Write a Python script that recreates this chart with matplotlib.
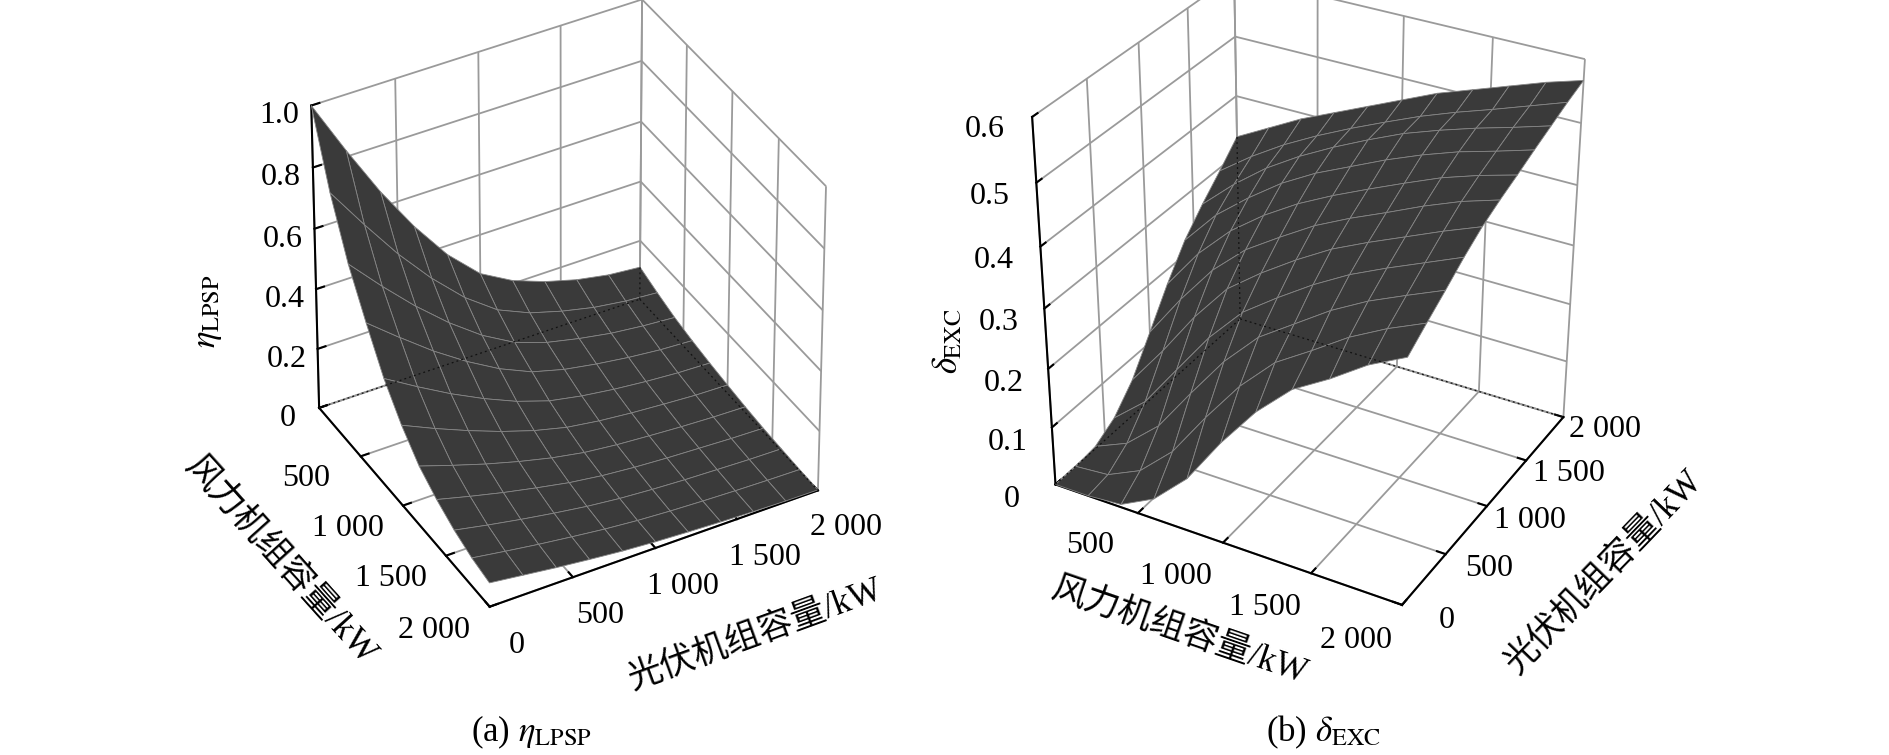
import numpy as np
import matplotlib.pyplot as plt
from matplotlib.ticker import NullFormatter
from mpl_toolkits.mplot3d import proj3d

plt.rcParams['font.family'] = ['Liberation Serif', 'Noto Sans CJK SC']
plt.rcParams['mathtext.fontset'] = 'stix'
plt.rcParams['grid.color'] = '#9a9a9a'
plt.rcParams['grid.linewidth'] = 1.3
plt.rcParams['axes.edgecolor'] = 'black'
plt.rcParams['axes.linewidth'] = 1.5

# capacities (kW)
wind_kw = [0, 200, 400, 600, 800, 1000, 1200, 1400, 1600, 1800, 2000]
pv_kw = [0, 200, 400, 600, 800, 1000, 1200, 1400, 1600, 1800, 2000]

# (a) loss of power supply probability, rows = wind, cols = pv
lpsp = [
    [1.000, 0.820, 0.650, 0.500, 0.370, 0.270, 0.210, 0.170, 0.140, 0.120, 0.110],
    [0.780, 0.640, 0.507, 0.390, 0.289, 0.211, 0.164, 0.133, 0.109, 0.094, 0.086],
    [0.610, 0.500, 0.397, 0.305, 0.226, 0.165, 0.128, 0.104, 0.085, 0.073, 0.065],
    [0.480, 0.394, 0.312, 0.240, 0.178, 0.130, 0.101, 0.082, 0.067, 0.056, 0.050],
    [0.360, 0.295, 0.234, 0.180, 0.133, 0.097, 0.076, 0.061, 0.050, 0.042, 0.038],
    [0.270, 0.221, 0.176, 0.135, 0.100, 0.073, 0.057, 0.046, 0.038, 0.031, 0.028],
    [0.200, 0.164, 0.130, 0.100, 0.074, 0.054, 0.042, 0.034, 0.027, 0.022, 0.019],
    [0.155, 0.127, 0.101, 0.078, 0.057, 0.042, 0.032, 0.025, 0.020, 0.015, 0.012],
    [0.120, 0.098, 0.078, 0.060, 0.044, 0.032, 0.024, 0.018, 0.014, 0.010, 0.008],
    [0.095, 0.078, 0.062, 0.048, 0.035, 0.025, 0.018, 0.013, 0.009, 0.006, 0.004],
    [0.080, 0.066, 0.052, 0.040, 0.029, 0.021, 0.015, 0.010, 0.006, 0.003, 0.002],
]

# (b) excess energy ratio, rows = wind, cols = pv
exc = [
    [0.000, 0.000, 0.004, 0.024, 0.062, 0.118, 0.175, 0.225, 0.262, 0.295, 0.330],
    [0.000, 0.005, 0.029, 0.072, 0.132, 0.193, 0.245, 0.285, 0.312, 0.335, 0.360],
    [0.005, 0.032, 0.079, 0.146, 0.208, 0.260, 0.300, 0.330, 0.355, 0.370, 0.390],
    [0.035, 0.085, 0.154, 0.219, 0.273, 0.311, 0.342, 0.370, 0.390, 0.400, 0.415],
    [0.090, 0.162, 0.226, 0.279, 0.316, 0.348, 0.377, 0.402, 0.420, 0.427, 0.440],
    [0.170, 0.233, 0.284, 0.320, 0.354, 0.383, 0.406, 0.428, 0.447, 0.452, 0.465],
    [0.240, 0.290, 0.323, 0.358, 0.388, 0.411, 0.432, 0.454, 0.472, 0.476, 0.490],
    [0.295, 0.327, 0.362, 0.391, 0.415, 0.436, 0.457, 0.477, 0.492, 0.497, 0.510],
    [0.330, 0.366, 0.394, 0.418, 0.440, 0.462, 0.481, 0.497, 0.510, 0.516, 0.530],
    [0.370, 0.397, 0.420, 0.443, 0.465, 0.485, 0.500, 0.513, 0.526, 0.536, 0.550],
    [0.400, 0.423, 0.445, 0.468, 0.488, 0.503, 0.516, 0.530, 0.543, 0.556, 0.567],
]

wind_ticks = [500, 1000, 1500, 2000]
wind_labels = ['500', '1 000', '1 500', '2 000']
pv_ticks = [0, 500, 1000, 1500, 2000]
pv_labels = ['0', '500', '1 000', '1 500', '2 000']
lpsp_ticks = [0, 0.2, 0.4, 0.6, 0.8, 1.0]
lpsp_labels = ['0', '0.2', '0.4', '0.6', '0.8', '1.0']
exc_ticks = [0, 0.1, 0.2, 0.3, 0.4, 0.5, 0.6]
exc_labels = ['0', '0.1', '0.2', '0.3', '0.4', '0.5', '0.6']

W, P = np.meshgrid(wind_kw, pv_kw, indexing='ij')
TICK_FS = 23
LABEL_FS = 25

fig = plt.figure(figsize=(18.9, 7.55), dpi=100)


def style_axes(ax, focal):
    for axis in (ax.xaxis, ax.yaxis, ax.zaxis):
        axis.set_pane_color((1, 1, 1, 0))
        axis.pane.set_edgecolor('#9a9a9a')
        axis.line.set_color('black')
        axis.line.set_linewidth(1.5)
        axis.set_major_formatter(NullFormatter())
        axis._axinfo['tick']['inward_factor'] = 0.0
        axis._axinfo['tick']['outward_factor'] = 0.3
        axis._axinfo['tick']['linewidth'] = {True: 1.5, False: 1.0}
    ax.set_proj_type('persp', focal_length=focal)
    ax.zaxis.set_ticks_position('lower')


def draw(ax, z, zticks, zmax, elev, azim, aspect, zoom, focal):
    z = np.array(z)
    ax.computed_zorder = False
    ax.plot_surface(W, P, z, color='#3a3a3a', edgecolor='#858585',
                    linewidth=0.6, shade=False, rstride=1, cstride=1,
                    antialiased=True, zorder=1)
    # hidden back edges showing through the surface
    kw = dict(color='#111111', lw=0.9, ls=(0, (1.5, 2.5)), zorder=2)
    ax.plot([0, 0], [0, 2000], [0, 0], **kw)
    ax.plot([0, 2000], [2000, 2000], [0, 0], **kw)
    ax.plot([0, 0], [2000, 2000], [0, z[0, -1]], **kw)

    ax.set_xlim(0, 2000)
    ax.set_ylim(0, 2000)
    ax.set_zlim(0, zmax)
    ax.set_xticks([0] + wind_ticks)
    ax.set_yticks(pv_ticks)
    ax.set_zticks(zticks)
    ax.view_init(elev=elev, azim=azim)
    ax.set_box_aspect(aspect, zoom=zoom)
    style_axes(ax, focal)


def put(ax, x, y, z, s, **kw):
    # place a 2D figure text at the projected position of a 3D point
    X, Y, _ = proj3d.proj_transform(x, y, z, ax.get_proj())
    px, py = ax.transData.transform((X, Y))
    fig.text(px / fig.bbox.width, py / fig.bbox.height, s,
             fontsize=TICK_FS, ha='center', va='center', **kw)


def tick_labels(ax, zticks, zlabels, offs):
    (wx, wy), (px, py), (zx, zy) = offs
    for t, s in zip(wind_ticks, wind_labels):
        put(ax, t + wx, wy, 0, s)
    for t, s in zip(pv_ticks, pv_labels):
        put(ax, px, t + py, 0, s)
    for t, s in zip(zticks, zlabels):
        put(ax, zx, zy, t, s)


ax1 = fig.add_axes([0.115, 0.141, 0.36, 0.90], projection='3d')
draw(ax1, lpsp, lpsp_ticks, 1.0, 37.3, -29.1, (0.902, 0.934, 0.944), 0.926, 2.0)

ax2 = fig.add_axes([0.5006, 0.1717, 0.38, 0.90], projection='3d')
draw(ax2, exc, exc_ticks, 0.6, 31, -60.5, (1.014, 0.93, 1.07), 0.983, 0.7)

fig.canvas.draw()
tick_labels(ax1, lpsp_ticks, lpsp_labels, ((27, -345), (2360, -30), (0, -190)))
tick_labels(ax2, exc_ticks, exc_labels, ((-60, -375), (2240, 0), (-118, -235)))

# axis titles
fig.text(0.1097, 0.588, r'$\eta_{\mathrm{LPSP}}$', fontsize=LABEL_FS, rotation=90,
         ha='center', va='center')
fig.text(0.148, 0.257, '风力机组容量/kW', fontsize=LABEL_FS, rotation=-48,
         ha='center', va='center', rotation_mode='anchor')
fig.text(0.400, 0.158, '光伏机组容量/kW', fontsize=LABEL_FS, rotation=20,
         ha='center', va='center', rotation_mode='anchor')

fig.text(0.502, 0.548, r'$\delta_{\mathrm{EXC}}$', fontsize=LABEL_FS, rotation=90,
         ha='center', va='center')
fig.text(0.624, 0.163, '风力机组容量/kW', fontsize=LABEL_FS, rotation=-19,
         ha='center', va='center', rotation_mode='anchor')
fig.text(0.849, 0.242, '光伏机组容量/kW', fontsize=LABEL_FS, rotation=46,
         ha='center', va='center', rotation_mode='anchor')

fig.text(0.281, 0.030, r'(a) $\eta_{\mathrm{LPSP}}$', fontsize=25, ha='center', va='center')
fig.text(0.700, 0.030, r'(b) $\delta_{\mathrm{EXC}}$', fontsize=25, ha='center', va='center')

fig.savefig('out.png', dpi=100)
